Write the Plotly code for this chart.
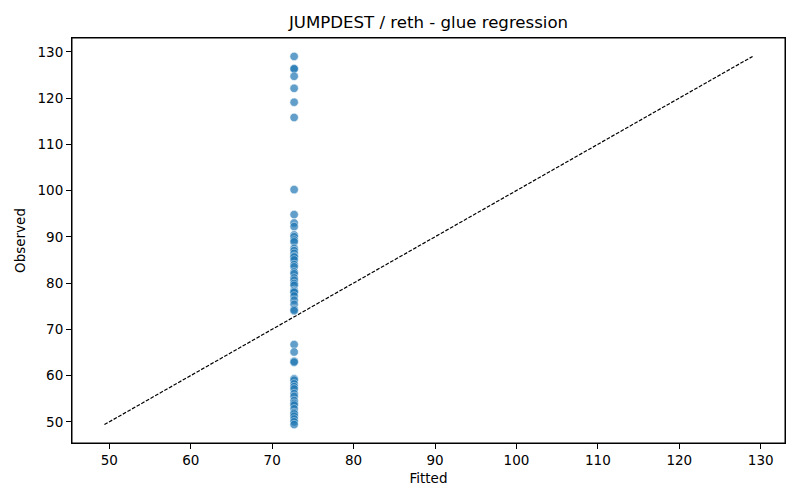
import plotly.graph_objects as go

# fitted value is the same for every run (intercept-only glue model)
fitted_value = 72.7

observed = [
    129.0, 126.4, 126.3, 124.7, 122.1, 119.1, 115.8, 100.2,
    94.8, 93.0, 92.2, 90.4, 90.0, 89.3, 88.9, 87.5, 87.0, 86.4,
    85.8, 85.6, 85.0, 84.0, 83.5, 82.4, 82.0, 81.1, 80.6, 79.9,
    79.5, 78.4, 78.1, 78.0, 77.2, 76.3, 75.4, 74.3, 74.0,
    66.7, 65.1, 63.1, 62.9,
    59.3, 59.0, 58.2, 57.6, 57.1, 56.1, 55.5, 54.6, 54.0, 53.6,
    52.8, 52.0, 51.7, 51.2, 50.6, 50.0, 49.4,
]
fitted = [fitted_value] * len(observed)

x_ticks = [50, 60, 70, 80, 90, 100, 110, 120, 130]
y_ticks = [50, 60, 70, 80, 90, 100, 110, 120, 130]

lo = min(min(observed), min(fitted))
hi = max(max(observed), max(fitted))
pad = (hi - lo) * 0.05

fig = go.Figure()

# y = x reference line
fig.add_trace(go.Scatter(
    x=[lo, hi], y=[lo, hi],
    mode="lines",
    line=dict(color="black", width=1.2, dash="3.7px,1.6px"),
    hoverinfo="skip",
    showlegend=False,
))

fig.add_trace(go.Scatter(
    x=fitted, y=observed,
    mode="markers",
    marker=dict(color="#1f77b4", size=8.5, opacity=0.7,
                line=dict(color="white", width=0.6)),
    showlegend=False,
))

axis_style = dict(
    showline=True, mirror=True, linecolor="black", linewidth=1,
    ticks="outside", ticklen=5, tickcolor="black", tickwidth=1,
    showgrid=False, zeroline=False, automargin=False,
    tickfont=dict(size=13.5, color="black"),
)

# the page puts the figure 8px in from the top-left corner
fig.update_layout(
    width=800, height=500,
    margin=dict(l=64, r=23, t=30, b=65, autoexpand=False),
    paper_bgcolor="white", plot_bgcolor="white",
    font=dict(family="DejaVu Sans", color="black"),
    title=dict(text="JUMPDEST / reth - glue regression", x=(64 + 356.5) / 800,
               xanchor="center", xref="container", y=0.972, yanchor="middle",
               font=dict(size=16.6, color="black"), automargin=False),
)
fig.update_xaxes(range=[lo - pad, hi + pad], tickvals=x_ticks,
                 title=dict(text="Fitted", font=dict(size=13.5), standoff=6), **axis_style)
fig.update_yaxes(range=[lo - pad, hi + pad], tickvals=y_ticks,
                 title=dict(text="Observed", font=dict(size=13.5), standoff=8), **axis_style)

# full frame around the plotting area
fig.add_shape(type="rect", xref="paper", yref="paper", x0=0, y0=0, x1=1, y1=1,
              line=dict(color="black", width=1), layer="above")

fig.write_html("out.html")
